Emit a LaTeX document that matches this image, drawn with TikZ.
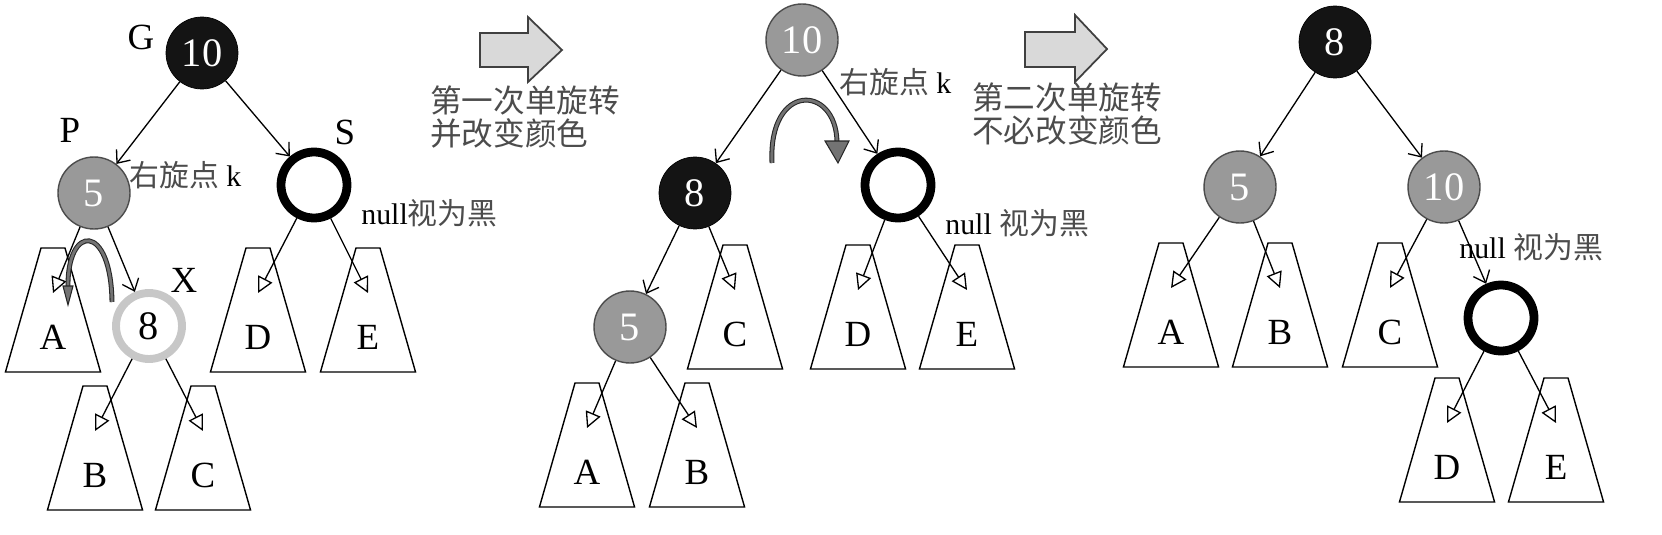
\documentclass[tikz,border=0pt]{standalone}
\usepackage{fontspec}
\setmainfont{Liberation Serif}
\newfontfamily\cjk{Noto Sans CJK SC}
\usetikzlibrary{shapes.geometric,arrows.meta}
\tikzset{%
  % Specifications for style of nodes:
    keynode/.style = {circle, minimum size=1.44cm, inner sep=0pt,
                      font=\fontsize{23}{23}\selectfont},
    blacknode/.style = {keynode, fill=black!92, draw=black, text=white},
    rednode/.style = {keynode, fill=black!40, draw=black!70,
                      line width=0.8pt, text=white},
    nullnode/.style = {keynode, minimum size=1.32cm, draw=black, line width=5pt},
    newnode/.style = {keynode, minimum size=1.32cm, draw=black!22, line width=4.5pt},
    subtree/.style = {trapezium, trapezium angle=74, draw, line width=0.8pt,
                      inner xsep=0.24cm, inner ysep=1.24cm},
    letter/.style = {font=\fontsize{21}{21}\selectfont, inner sep=0pt},
    remark/.style = {font=\fontsize{17}{17}\selectfont, anchor=west, inner sep=0pt},
    rottext/.style = {anchor=west, inner sep=0pt, align=left, text=black!70,
                      font=\cjk\fontsize{18}{19}\selectfont},
    treelink/.style = {-{Straight Barb[length=6pt,width=10pt]}, line width=0.75pt},
    leaflink/.style = {-{Triangle[open,length=9pt,width=9pt]}, line width=0.75pt},
    rotarrow/.style = {draw=black!85, double=black!55, double distance=1.6pt,
                       line width=0.6pt},
    rothead/.style = {fill=black!55, draw=black!85, line width=0.6pt},
    bigarrow/.style = {fill=black!15, draw=black!75, line width=1pt}
}
\begin{document}
\begin{tikzpicture}[x=0.02cm, y=-0.02cm]
\useasboundingbox (0,0) rectangle (1662,534);

% first tree: X inserted under P
\node[blacknode] (G) at (202,53) {10};
\node[rednode] (P) at (94,193) {5};
\node[nullnode] (S) at (314,185) {};
\node[newnode] (X) at (149,326) {8};

\node[letter] (Gt) at (141,37) {G};
\node[letter] (Pt) at (70,130) {P};
\node[letter] (St) at (345,132) {S};
\node[letter] (Xt) at (184,280) {X};
\node[remark] (Pk) at (129,175) {{\cjk\color{black!70}右旋点} k};
\node[remark] (Sn) at (361,213) {null{\cjk\color{black!70}视为黑}};

\node[subtree] (a1) at (53,310) {};
\node[subtree] (d1) at (258,310) {};
\node[subtree] (e1) at (368,310) {};
\node[subtree] (b1) at (95,448) {};
\node[subtree] (c1) at (203,448) {};
\node[letter] (a1t) at ([yshift=-0.55cm]a1.center) {A};
\node[letter] (d1t) at ([yshift=-0.55cm]d1.center) {D};
\node[letter] (e1t) at ([yshift=-0.55cm]e1.center) {E};
\node[letter] (b1t) at ([yshift=-0.55cm]b1.center) {B};
\node[letter] (c1t) at ([yshift=-0.55cm]c1.center) {C};

\draw[treelink] (G) -- (P);
\draw[treelink] (G) -- (S);
\draw[leaflink] (P) -- ([yshift=0.34cm]a1.center);
\draw[treelink] (P) -- (X);
\draw[leaflink] (S) -- ([yshift=0.34cm]d1.center);
\draw[leaflink] (S) -- ([yshift=0.34cm]e1.center);
\draw[leaflink] (X) -- ([yshift=0.34cm]b1.center);
\draw[leaflink] (X) -- ([yshift=0.34cm]c1.center);

\draw[rotarrow] (112,302) .. controls (111,222) and (67,224) .. (68,287);
\filldraw[rothead] (63,286) -- (73,286) -- (68,305) -- cycle;

% first step
\draw[bigarrow] (480,33) -- (528,33) -- (528,17) -- (562,50) -- (528,82)
  -- (528,67) -- (480,67) -- cycle;
\node[rottext] (step1) at (430,117) {第一次单旋转\\并改变颜色};

% second tree
\node[rednode] (K10) at (802,40) {10};
\node[blacknode] (K8) at (695,193) {8};
\node[nullnode] (N2) at (898,185) {};
\node[rednode] (K5) at (630,327) {5};

\node[remark] (Kk) at (839,82) {{\cjk\color{black!70}右旋点} k};
\node[remark] (Nn) at (945,223) {null {\cjk\color{black!70}视为黑}};

\node[subtree] (c2) at (735,307) {};
\node[subtree] (d2) at (858,307) {};
\node[subtree] (e2) at (967,307) {};
\node[subtree] (a2) at (587,445) {};
\node[subtree] (b2) at (697,445) {};
\node[letter] (c2t) at ([yshift=-0.55cm]c2.center) {C};
\node[letter] (d2t) at ([yshift=-0.55cm]d2.center) {D};
\node[letter] (e2t) at ([yshift=-0.55cm]e2.center) {E};
\node[letter] (a2t) at ([yshift=-0.55cm]a2.center) {A};
\node[letter] (b2t) at ([yshift=-0.55cm]b2.center) {B};

\draw[treelink] (K10) -- (K8);
\draw[treelink] (K10) -- (N2);
\draw[treelink] (K8) -- (K5);
\draw[leaflink] (K8) -- ([yshift=0.34cm]c2.center);
\draw[leaflink] (N2) -- ([yshift=0.34cm]d2.center);
\draw[leaflink] (N2) -- ([yshift=0.34cm]e2.center);
\draw[leaflink] (K5) -- ([yshift=0.34cm]a2.center);
\draw[leaflink] (K5) -- ([yshift=0.34cm]b2.center);

\draw[rotarrow] (772,163) .. controls (768,82) and (836,84) .. (837,142);
\filldraw[rothead] (825,141) -- (849,141) -- (838,163) -- cycle;

% second step
\draw[bigarrow] (1025,32) -- (1075,32) -- (1075,15) -- (1107,49) -- (1075,82)
  -- (1075,67) -- (1025,67) -- cycle;
\node[rottext] (step2) at (972,114) {第二次单旋转\\不必改变颜色};

% third tree
\node[blacknode] (R8) at (1335,42) {8};
\node[rednode] (R5) at (1240,187) {5};
\node[rednode] (R10) at (1444,187) {10};
\node[nullnode] (N3) at (1501,318) {};

\node[remark] (Rn) at (1459,247) {null {\cjk\color{black!70}视为黑}};

\node[subtree] (a3) at (1171,305) {};
\node[subtree] (b3) at (1280,305) {};
\node[subtree] (c3) at (1390,305) {};
\node[subtree] (d3) at (1447,440) {};
\node[subtree] (e3) at (1556,440) {};
\node[letter] (a3t) at ([yshift=-0.55cm]a3.center) {A};
\node[letter] (b3t) at ([yshift=-0.55cm]b3.center) {B};
\node[letter] (c3t) at ([yshift=-0.55cm]c3.center) {C};
\node[letter] (d3t) at ([yshift=-0.55cm]d3.center) {D};
\node[letter] (e3t) at ([yshift=-0.55cm]e3.center) {E};

\draw[treelink] (R8) -- (R5);
\draw[treelink] (R8) -- (R10);
\draw[leaflink] (R5) -- ([yshift=0.34cm]a3.center);
\draw[leaflink] (R5) -- ([yshift=0.34cm]b3.center);
\draw[leaflink] (R10) -- ([yshift=0.34cm]c3.center);
\draw[treelink] (R10) -- (N3);
\draw[leaflink] (N3) -- ([yshift=0.34cm]d3.center);
\draw[leaflink] (N3) -- ([yshift=0.34cm]e3.center);

\end{tikzpicture}
\end{document}
